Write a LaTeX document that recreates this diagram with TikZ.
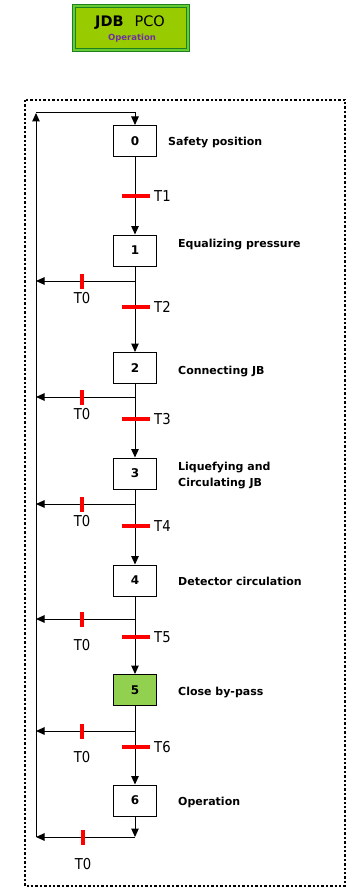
\documentclass[tikz,border=0pt]{standalone}
\usepackage{fontspec}
\setmainfont{DejaVu Sans}
\newfontfamily\tfont[FakeStretch=0.88]{DejaVu Sans}
\usetikzlibrary{arrows.meta}
\definecolor{hdrfill}{RGB}{153,204,0}
\definecolor{hdrdark}{RGB}{30,128,30}
\definecolor{hdrlight}{RGB}{102,204,51}
\definecolor{oppurple}{RGB}{112,48,160}
\definecolor{activefill}{RGB}{146,208,80}
\definecolor{tred}{RGB}{255,0,0}
\tikzset{
  stepbox/.style={draw=black, line width=1pt, fill=white, minimum width=43pt, minimum height=31pt, inner sep=0pt, font=\bfseries\fontsize{12}{13}\selectfont},
  tbar/.style={fill=tred, minimum width=28pt, minimum height=3.4pt, inner sep=0pt},
  ttick/.style={fill=tred, minimum width=3.4pt, minimum height=15pt, inner sep=0pt},
  tlab/.style={font=\tfont\fontsize{15}{16}\selectfont, inner sep=0pt},
  steplab/.style={font=\bfseries\fontsize{11}{16.5}\selectfont, inner sep=0pt, anchor=west, align=left},
  arr/.style={line width=1pt, -{Triangle[length=8.5pt,width=7.5pt]}}
}
\begin{document}
\begin{tikzpicture}[x=1pt,y=-1pt]
\useasboundingbox (0,0) rectangle (354,888);
% header
\node[draw=hdrdark, line width=1pt, double=hdrlight, double distance=2.2pt, fill=hdrfill,
      minimum width=114.5pt, minimum height=44.5pt, inner sep=0pt] (hdr) at (131,28) {};
\node[inner sep=0pt, font=\fontsize{14.5}{15}\selectfont] (hdrt) at (130,22.5) {\textbf{JDB}\hspace{11pt}PCO};
\node[inner sep=0pt, font=\bfseries\fontsize{8.5}{9}\selectfont, text=oppurple] (hdrs) at (132,38) {Operation};
% frame
\draw[line width=2.4pt, dash pattern=on 2.4pt off 2pt] (25,100) rectangle (345,886);
% steps
\node[stepbox] (s0) at (135,141) {0};
\node[stepbox] (s1) at (135,250.5) {1};
\node[stepbox] (s2) at (135,368) {2};
\node[stepbox] (s3) at (135,473.5) {3};
\node[stepbox] (s4) at (135,580.5) {4};
\node[stepbox, fill=activefill] (s5) at (135,690) {5};
\node[stepbox] (s6) at (135,800.5) {6};
% step labels
\node[steplab] (l0) at (168,143) {Safety position};
\node[steplab] (l1) at (178,245) {Equalizing pressure};
\node[steplab] (l2) at (178,372) {Connecting JB};
\node[steplab] (l3) at (178,475.5) {Liquefying and\\Circulating JB};
\node[steplab] (l4) at (178,581) {Detector circulation};
\node[steplab] (l5) at (178,692) {Close by-pass};
\node[steplab] (l6) at (178,802) {Operation};
% coordinates
\coordinate (tl) at (36,113);
\coordinate (tr) at (135,113);
\coordinate (b1) at (135,281);
\coordinate (b2) at (135,397);
\coordinate (b3) at (135,504);
\coordinate (b4) at (135,619);
\coordinate (b5) at (135,731);
\coordinate (b6) at (135,837);
\coordinate (bl) at (36,837);
% main links
\draw[arr] (bl) -- (tl);
\draw[arr] (tl) -- (tr) -- (s0.north);
\draw[arr] (s0.south) -- (s1.north);
\draw[arr] (s1.south) -- (s2.north);
\draw[arr] (s2.south) -- (s3.north);
\draw[arr] (s3.south) -- (s4.north);
\draw[arr] (s4.south) -- (s5.north);
\draw[arr] (s5.south) -- (s6.north);
\draw[arr] (s6.south) -- (b6);
% return branches
\draw[arr] (b1) -- (b1 -| tl);
\draw[arr] (b2) -- (b2 -| tl);
\draw[arr] (b3) -- (b3 -| tl);
\draw[arr] (b4) -- (b4 -| tl);
\draw[arr] (b5) -- (b5 -| tl);
\draw[arr] (b6) -- (bl);
% transitions
\node[tbar] (t1) at (136,196) {};
\node[tbar] (t2) at (136,307) {};
\node[tbar] (t3) at (136,419) {};
\node[tbar] (t4) at (136,526) {};
\node[tbar] (t5) at (136,637) {};
\node[tbar] (t6) at (136,747) {};
\node[tlab, anchor=west] (tl1) at (154,196) {T1};
\node[tlab, anchor=west] (tl2) at (154,307) {T2};
\node[tlab, anchor=west] (tl3) at (154,419) {T3};
\node[tlab, anchor=west] (tl4) at (154,526) {T4};
\node[tlab, anchor=west] (tl5) at (154,637) {T5};
\node[tlab, anchor=west] (tl6) at (154,747) {T6};
% T0 ticks
\node[ttick] (k1) at (82,281) {};
\node[ttick] (k2) at (82,397) {};
\node[ttick] (k3) at (82,504) {};
\node[ttick] (k4) at (82,619) {};
\node[ttick] (k5) at (82,731) {};
\node[ttick] (k6) at (83,837) {};
\node[tlab] (z1) at (82,298) {T0};
\node[tlab] (z2) at (82,414) {T0};
\node[tlab] (z3) at (82,521) {T0};
\node[tlab] (z4) at (82,645) {T0};
\node[tlab] (z5) at (82,757) {T0};
\node[tlab] (z6) at (83,864) {T0};
\end{tikzpicture}
\end{document}
